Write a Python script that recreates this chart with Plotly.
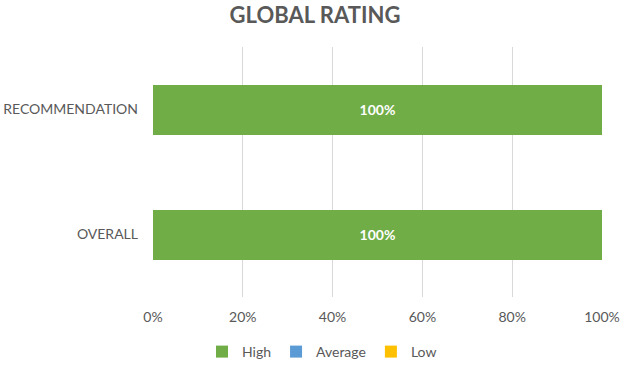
import plotly.graph_objects as go

categories = ["OVERALL", "RECOMMENDATION"]
series_names = ["High", "Average", "Low"]
high = [100, 100]
average = [0, 0]
low = [0, 0]
tick_vals = [0, 20, 40, 60, 80, 100]
tick_text = ["0%", "20%", "40%", "60%", "80%", "100%"]

colors = {"High": "#70AD47", "Average": "#5B9BD5", "Low": "#FFC000"}
values = {"High": high, "Average": average, "Low": low}

fig = go.Figure()
for name in series_names:
    vals = values[name]
    fig.add_trace(go.Bar(
        y=categories, x=vals, name=name, orientation="h",
        marker=dict(color=colors[name], line=dict(width=0)),
        text=[f"{v}%" if v > 0 else "" for v in vals],
        textposition="inside", insidetextanchor="middle",
        textfont=dict(color="white", size=14, family="Lato", weight="bold"),
        width=0.4,
    ))

fig.update_layout(
    barmode="stack",
    width=625, height=367,
    margin=dict(l=153, r=23, t=47, b=70, autoexpand=False),
    paper_bgcolor="white", plot_bgcolor="white",
    font=dict(family="Lato", color="#595959", size=14),
    title=dict(text="<b>GLOBAL RATING</b>", x=315/625, xref="container", xanchor="center",
               y=1 - 15/367, yref="container", yanchor="middle",
               font=dict(size=22, color="#595959", family="Lato")),
    xaxis=dict(range=[0, 100], tickvals=tick_vals, ticktext=tick_text,
               showgrid=True, gridcolor="#D9D9D9", gridwidth=1, zeroline=False,
               showline=False, ticks="", automargin=False, ticklabelstandoff=10,
               tickfont=dict(size=14, color="#595959")),
    yaxis=dict(showgrid=False, zeroline=False, showline=False, ticks="",
               range=[-0.5, 1.5], automargin=False, ticklabelstandoff=14,
               tickfont=dict(size=14, color="#595959")),
    legend=dict(orientation="h", xref="container", yref="container",
                x=322/625, y=1 - 352/367, xanchor="center", yanchor="middle",
                font=dict(size=14, color="#595959"), traceorder="normal",
                itemwidth=30),
    showlegend=True,
)
fig.write_html("out.html")
